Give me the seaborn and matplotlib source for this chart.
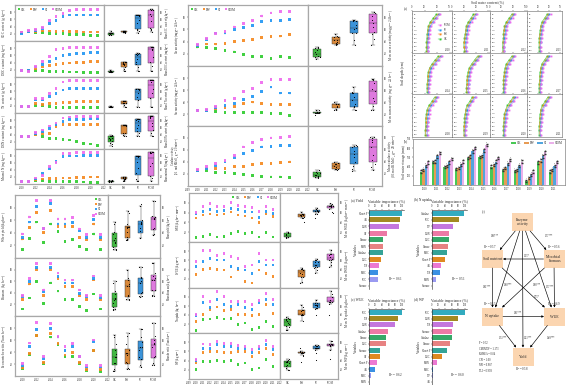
import numpy as np
import pandas as pd
import matplotlib
matplotlib.use("Agg")
import matplotlib.pyplot as plt
import seaborn as sns
from matplotlib.patches import FancyBboxPatch

W, H = 567, 385
TRT = ["CK", "FW", "SI", "SIOM"]
PAL = {"CK": "#2ecc2e", "FW": "#f5891f", "SI": "#2196f3", "SIOM": "#ee6aee"}
BAR_PAL = {"CK": "#33dd44", "FW": "#ff9a3c", "SI": "#3aaaf5", "SIOM": "#f4a6f4"}
nan = np.nan

years12 = list(range(2010, 2022))
years11 = list(range(2010, 2021))

# --- soil nutrients (top left), relative units ---
soc = {"CK": [23, 27, 23, 23, 21, 21, 21, 19, 18, 18, 16, 16],
       "FW": [23, 25, 25, 28, 28, 27, 28, 27, 26, 25, 25, 25],
       "SI": [21, 27, 30, 34, 49, 58, 69, 72, 72, 72, 72, 72],
       "SIOM": [25, 30, 32, 37, 56, 69, 76, 85, 87, 87, 88, 88]}
doc = {"CK": [17, 17, 19, 19, 16, 15, 15, 14, 14, 13, 13, 13],
       "FW": [17, 17, 23, 28, 32, 35, 37, 39, 41, 41, 42, 42],
       "SI": [17, 17, 28, 35, 42, 51, 60, 63, 65, 65, 67, 68],
       "SIOM": [17, 16, 30, 42, 56, 76, 79, 83, 83, 83, 83, 83]}
tn = {"CK": [18, 18, 20, 20, 18, 16, 16, 16, 16, 16, 16, 16],
      "FW": [18, 18, 27, 23, 27, 27, 29, 29, 32, 32, 32, 32],
      "SI": [18, 18, 36, 36, 45, 55, 64, 68, 68, 68, 68, 68],
      "SIOM": [18, 18, 41, 41, 55, 68, 86, 91, 91, 91, 91, 91]}
don = {"CK": [35, 35, 39, 35, 30, 30, 27, 25, 21, 16, 14, 9],
       "FW": [35, 35, 39, 44, 44, 63, 67, 67, 67, 67, 67, 67],
       "SI": [35, 35, 44, 49, 58, 67, 77, 81, 83, 83, 84, 84],
       "SIOM": [35, 35, 45, 53, 64, 72, 86, 89, 91, 91, 91, 91]}
mn = {"CK": [8, 8, 10, 10, 8, 8, 8, 8, 7, 6, 5, 5],
      "FW": [8, 8, 12, 14, 15, 15, 17, 17, 19, 19, 20, 20],
      "SI": [8, 8, 14, 31, 45, 64, 78, 80, 80, 81, 81, 81],
      "SIOM": [8, 8, 17, 24, 50, 61, 88, 88, 90, 90, 90, 90]}

# --- enzyme activities (top middle) ---
urease = {"CK": [31, 30, 29, 26, 23, 19, 16, 15, 12, 15, 14],
          "FW": [34, 36, 36, 37, 40, 42, 43, 47, 48, 49, 52],
          "SI": [34, 43, 54, 54, 60, 63, 67, 73, 75, 74, 76],
          "SIOM": [35, 45, 53, 56, 64, 70, 75, 82, 87, 89, 89]}
sucrase = {"CK": [26, 26, 24, 23, 23, 22, 22, 22, 21, 21, 18],
           "FW": [26, 26, 29, 31, 33, 37, 40, 37, 36, 36, 36],
           "SI": [26, 26, 31, 34, 37, 44, 49, 57, 65, 55, 55],
           "SIOM": [26, 27, 33, 42, 46, 58, 62, 72, 78, 77, 78]}
catalase = {"CK": [26, 26, 23, 22, 21, 19, 18, 16, 15, 15, 14],
            "FW": [26, 29, 29, 29, 32, 33, 36, 37, 38, 39, 40],
            "SI": [25, 29, 34, 40, 48, 54, 59, 65, 66, 67, 68],
            "SIOM": [27, 32, 37, 43, 51, 65, 73, 77, 80, 81, 82]}

# --- yield, biomass, benefits (bottom left) ---
grain = {"CK": [14, 31, 57, 24, 54, 42, 26, 29, 18, 13, 38, 14],
         "FW": [30, 48, 72, 41, 75, 50, 50, 50, 33, 29, 54, 29],
         "SI": [32, 57, 82, 47, 86, 54, 54, 56, 43, 32, 61, 32],
         "SIOM": [38, 65, 91, 47, 91, 62, 62, 64, 46, 37, 67, 37]}
biomass = {"CK": [12, 31, 60, 22, 57, 43, 28, 29, 16, 10, 38, 12],
           "FW": [29, 55, 80, 36, 80, 65, 51, 51, 35, 29, 62, 28],
           "SI": [34, 60, 84, 42, 84, 68, 57, 57, 39, 34, 65, 32],
           "SIOM": [36, 65, 91, 45, 91, 74, 62, 62, 45, 35, 69, 35]}
benefit = {"CK": [12, 36, 68, 21, 65, 53, 32, 32, 21, 9, 43, 8],
           "FW": [14, 38, 67, 22, 71, 54, 35, 39, 23, 11, 43, 11],
           "SI": [18, 49, 78, 29, 79, 65, 43, 49, 32, 15, 57, 15],
           "SIOM": [21, 55, 89, 32, 88, 66, 49, 54, 33, 18, 60, 18]}

# --- water use (bottom middle) ---
wue = {"CK": [9, 11, 15, 10, 11, 17, 21, 18, 19, 10, 20, 10],
       "FW": [49, 55, 57, 55, 57, 61, 55, 53, 49, 40, 57, 52],
       "SI": [57, 63, 67, 63, 65, 69, 67, 63, 61, 50, 63, 58],
       "SIOM": [60, 73, 78, 73, 73, 80, 75, 73, 71, 62, 73, 67]}
iwue = {"CK": [nan] * 12,
        "FW": [30, 41, 43, 41, 39, 24, 39, 14, 11, 39, 32, 25],
        "SI": [46, 57, 64, 61, 61, 46, 43, 39, 32, 57, 50, 50],
        "SIOM": [57, 82, 82, 71, 75, 68, 64, 46, 50, 75, 61, 61]}
nup = {"CK": [6, 30, 31, 35, 31, 33, 19, 22, 7, 13, 26, 15],
       "FW": [26, 41, 52, 58, 50, 52, 41, 41, 39, 41, 63, 43],
       "SI": [39, 67, 56, 74, 63, 59, 63, 56, 53, 67, 74, 63],
       "SIOM": [41, 81, 70, 93, 81, 70, 70, 70, 64, 73, 87, 74]}
wp = {"CK": [20, 38, 38, 41, 38, 40, 31, 35, 20, 24, 43, 28],
      "FW": [36, 57, 59, 60, 57, 58, 59, 59, 49, 57, 67, 53],
      "SI": [41, 67, 67, 75, 71, 71, 67, 67, 57, 67, 75, 64],
      "SIOM": [43, 76, 75, 82, 77, 77, 73, 71, 64, 71, 83, 71]}
SE = 2.5

# --- soil water content profiles (%), 2010-2021 ---
depths = [20, 40, 60, 80, 100, 120, 140, 160, 180, 200]
swc_ck = [[19.5, 17.0, 14.5, 13.0, 12.5, 12.0, 12.0, 11.5, 11.5, 11.5],
          [18.0, 16.0, 13.5, 12.0, 11.5, 11.0, 10.5, 10.0, 10.0, 10.5],
          [19.0, 16.5, 14.0, 12.5, 12.0, 11.5, 11.5, 11.0, 11.0, 11.0],
          [18.5, 16.0, 13.5, 12.5, 12.0, 11.5, 11.0, 11.0, 11.0, 11.0],
          [21.0, 18.5, 16.0, 14.0, 13.0, 12.5, 12.5, 12.0, 12.0, 12.0],
          [21.5, 19.0, 16.5, 14.5, 13.5, 13.0, 12.5, 12.5, 12.0, 12.0],
          [19.0, 16.5, 14.0, 13.0, 12.5, 12.0, 11.5, 11.5, 11.5, 11.5],
          [18.5, 16.0, 13.5, 12.5, 12.0, 11.5, 11.5, 11.0, 11.0, 11.0],
          [18.0, 16.0, 13.5, 12.0, 11.5, 11.0, 11.0, 11.0, 10.5, 10.5],
          [17.0, 15.0, 12.5, 11.5, 11.0, 10.5, 10.5, 10.0, 10.0, 10.0],
          [20.0, 17.5, 15.0, 13.5, 12.5, 12.0, 12.0, 11.5, 11.5, 11.5],
          [19.0, 16.5, 14.0, 12.5, 12.0, 11.5, 11.5, 11.0, 11.0, 11.0]]
swc_fw = [[20.5, 18.0, 15.5, 13.5, 13.0, 12.5, 12.5, 12.0, 12.0, 12.0],
          [19.0, 17.0, 14.5, 12.5, 12.0, 11.5, 11.0, 10.5, 10.5, 11.0],
          [20.0, 17.5, 15.0, 13.0, 12.5, 12.0, 12.0, 11.5, 11.5, 11.5],
          [19.5, 17.0, 14.5, 13.0, 12.5, 12.0, 11.5, 11.5, 11.5, 11.5],
          [22.0, 19.5, 17.0, 14.5, 13.5, 13.0, 13.0, 12.5, 12.5, 12.5],
          [22.5, 20.0, 17.5, 15.0, 14.0, 13.5, 13.0, 13.0, 12.5, 12.5],
          [20.0, 17.5, 15.0, 13.5, 13.0, 12.5, 12.0, 12.0, 12.0, 12.0],
          [19.5, 17.0, 14.5, 13.0, 12.5, 12.0, 12.0, 11.5, 11.5, 11.5],
          [19.0, 17.0, 14.5, 12.5, 12.0, 11.5, 11.5, 11.5, 11.0, 11.0],
          [18.0, 16.0, 13.5, 12.0, 11.5, 11.0, 11.0, 10.5, 10.5, 10.5],
          [21.0, 18.5, 16.0, 14.0, 13.0, 12.5, 12.5, 12.0, 12.0, 12.0],
          [20.0, 17.5, 15.0, 13.0, 12.5, 12.0, 12.0, 11.5, 11.5, 11.5]]
swc_si = [[21.5, 19.0, 16.5, 14.5, 13.5, 13.0, 13.0, 12.5, 12.5, 12.5],
          [20.0, 18.0, 15.5, 13.5, 13.0, 12.5, 12.0, 11.5, 11.5, 12.0],
          [21.0, 18.5, 16.0, 14.0, 13.5, 13.0, 12.5, 12.5, 12.0, 12.0],
          [20.5, 18.0, 15.5, 14.0, 13.5, 13.0, 12.5, 12.5, 12.0, 12.0],
          [23.0, 20.5, 18.0, 15.5, 14.5, 14.0, 13.5, 13.5, 13.0, 13.0],
          [23.5, 21.0, 18.5, 16.0, 15.0, 14.5, 14.0, 14.0, 13.5, 13.5],
          [21.0, 18.5, 16.0, 14.5, 14.0, 13.5, 13.0, 13.0, 12.5, 12.5],
          [20.5, 18.0, 15.5, 14.0, 13.5, 13.0, 12.5, 12.5, 12.0, 12.0],
          [20.0, 18.0, 15.5, 13.5, 13.0, 12.5, 12.5, 12.0, 12.0, 12.0],
          [19.0, 17.0, 14.5, 13.0, 12.5, 12.0, 11.5, 11.5, 11.0, 11.0],
          [22.0, 19.5, 17.0, 15.0, 14.0, 13.5, 13.0, 13.0, 12.5, 12.5],
          [21.0, 18.5, 16.0, 14.0, 13.5, 13.0, 12.5, 12.5, 12.0, 12.0]]
swc_siom = [[22.5, 20.0, 17.5, 15.5, 14.5, 14.0, 13.5, 13.5, 13.0, 13.0],
            [21.0, 19.0, 16.5, 14.5, 14.0, 13.5, 13.0, 12.5, 12.0, 12.5],
            [22.0, 19.5, 17.0, 15.0, 14.5, 14.0, 13.5, 13.0, 12.5, 12.5],
            [21.5, 19.0, 16.5, 15.0, 14.5, 14.0, 13.5, 13.0, 12.5, 12.5],
            [24.0, 21.5, 19.0, 16.5, 15.5, 15.0, 14.5, 14.0, 13.5, 13.5],
            [24.5, 22.0, 19.5, 17.0, 16.0, 15.5, 15.0, 14.5, 14.0, 14.0],
            [22.0, 19.5, 17.0, 15.5, 15.0, 14.5, 14.0, 13.5, 13.0, 13.0],
            [21.5, 19.0, 16.5, 15.0, 14.5, 14.0, 13.5, 13.0, 12.5, 12.5],
            [21.0, 19.0, 16.5, 14.5, 14.0, 13.5, 13.0, 12.5, 12.5, 12.5],
            [20.0, 18.0, 15.5, 14.0, 13.5, 13.0, 12.5, 12.0, 11.5, 11.5],
            [23.0, 20.5, 18.0, 16.0, 15.0, 14.5, 14.0, 13.5, 13.0, 13.0],
            [22.0, 19.5, 17.0, 15.0, 14.5, 14.0, 13.5, 13.0, 12.5, 12.5]]

# --- soil water storage (mm) ---
storage = {"CK": [346, 448, 393, 372, 492, 503, 401, 364, 353, 247, 445, 346],
           "FW": [364, 455, 408, 383, 510, 518, 419, 383, 364, 273, 466, 364],
           "SI": [408, 510, 445, 419, 565, 576, 455, 430, 408, 310, 510, 408],
           "SIOM": [445, 547, 481, 455, 601, 638, 492, 474, 455, 346, 554, 448]}
storage_se = 12
storage_letters = {"CK": "c", "FW": "c", "SI": "b", "SIOM": "a"}

# --- random forest variable importance (%) ---
vi_yield_vars = ["Shoot P", "AN", "DON", "OP", "Urease", "MBN", "Catalase", "DOC", "TN", "MBC", "SOC", "Sucrase"]
vi_yield = [100, 93, 90, 55, 43, 41, 41, 37, 30, 26, 26, 0]
vi_nup_vars = ["Catalase", "SOC", "TP", "DON", "DOC", "Urease", "MBC", "Shoot P", "AN", "TN", "MBN", "Sucrase"]
vi_nup = [97, 82, 65, 52, 51, 48, 44, 40, 28, 23, 13, 0]
vi_wue_vars = ["SOC", "TN", "DON", "Catalase", "Urease", "DOC", "Sucrase", "OP", "Shoot P", "AN", "MBC", "MBN"]
vi_wue = [100, 87, 78, 59, 52, 50, 33, 33, 25, 17, 7, 0]
vi_wp_vars = ["SOC", "DON", "TN", "Sucrase", "Catalase", "Urease", "Shoot P", "DOC", "MBN", "MBC", "TP", "AN"]
vi_wp = [100, 79, 65, 62, 62, 54, 44, 31, 14, 4, 2, 0]
VI_COLORS = ["#1bbcd6", "#b8960c", "#cc66ee", "#ff66a0", "#22bb66", "#f87171",
             "#22b5a5", "#ff8c00", "#ff66dd", "#1e90ff", "#8c8cff", "#bbbbbb"]

# --- SEM ---
sem_nodes = {"enz": "Enzyme\nactivity", "soil": "Soil nutrient", "mic": "Microbial\nbiomass",
             "nup": "N uptake", "wue": "WUE", "yld": "Yield"}
sem_paths = [("enz", "soil", "0.66***"), ("enz", "mic", "0.57***"), ("mic", "soil", "0.15*"),
             ("soil", "nup", "0.81***"), ("enz", "nup", "0.80***"), ("enz", "wue", "0.68***"),
             ("mic", "wue", "0.57***"), ("soil", "wue", "0.75*"), ("mic", "nup", ""),
             ("nup", "wue", "0.61***"), ("nup", "yld", "0.53***"), ("enz", "yld", "0.23***"),
             ("wue", "yld", "0.48***")]
sem_r2 = {"soil": "0.57", "mic": "0.56", "nup": "0.55", "wue": "0.69", "yld": "0.58"}
sem_fit = ["P = 0.32", "CMIN/DF = 1.173", "RMSEA = 0.04", "CFI = 1.00", "NFI = 0.987", "TLI = 0.998"]

sns.set_theme(style="ticks")
plt.rcParams["font.family"] = ["Liberation Serif", "DejaVu Serif"]
plt.rcParams.update({
    "font.size": 2.3, "axes.linewidth": 0.4, "axes.labelsize": 2.3, "axes.labelpad": 0.5,
    "xtick.labelsize": 2.0, "ytick.labelsize": 2.0,
    "xtick.major.size": 1.0, "ytick.major.size": 1.0,
    "xtick.major.width": 0.3, "ytick.major.width": 0.3,
    "xtick.major.pad": 0.5, "ytick.major.pad": 0.5,
    "legend.fontsize": 2.3,
})
np.random.seed(3)

fig = plt.figure(figsize=(W / 100, H / 100), dpi=100)


def px_axes(x0, y0, x1, y1, **kw):
    return fig.add_axes([x0 / W, 1 - y1 / H, (x1 - x0) / W, (y1 - y0) / H], **kw)


def long_df(data, years):
    rows = []
    for t in TRT:
        for yr, v in zip(years, data[t]):
            rows.append((yr, t, v))
    return pd.DataFrame(rows, columns=["year", "trt", "value"]).dropna()


def frame(ax, color="#a8a8a8", lw=0.9):
    for s in ax.spines.values():
        s.set_color(color)
        s.set_linewidth(lw)


def ts_block(rows, years, x0, xm, x1, ys, xticks, legend_kw, lsize=2.3, rsize=2.3):
    n = len(rows)
    for i, (data, ylab, rlab) in enumerate(rows):
        ax = px_axes(x0, ys[i], xm, ys[i + 1])
        axb = px_axes(xm, ys[i], x1, ys[i + 1], sharey=ax)
        df = long_df(data, years)
        for t in TRT:
            d = df[df.trt == t]
            ax.errorbar(d.year, d.value, yerr=SE, fmt="none", ecolor=PAL[t],
                        elinewidth=0.3, alpha=0.45, zorder=2)
        sns.scatterplot(data=df, x="year", y="value", hue="trt", hue_order=TRT, palette=PAL,
                        marker="s", s=4, linewidth=0, alpha=0.9, ax=ax, legend=(i == 0), zorder=3)
        sns.boxplot(data=df, x="trt", y="value", order=TRT, hue="trt", hue_order=TRT,
                    palette=PAL, width=0.45, linewidth=0.3, linecolor="#333333",
                    fliersize=0, ax=axb, legend=False)
        sns.stripplot(data=df, x="trt", y="value", order=TRT, color="black", size=0.8,
                      jitter=0.13, ax=axb)
        ax.set_xlim(2009, 2022)
        ax.set_ylim(0, 100)
        ax.set_yticks([20, 40, 60, 80])
        ax.set_xticks(xticks)
        ax.set_xlabel("")
        axb.set_xlabel("")
        ax.set_ylabel(ylab, linespacing=0.9, fontsize=lsize)
        axb.set_ylabel(rlab, linespacing=0.9, fontsize=rsize)
        axb.yaxis.set_label_position("right")
        axb.tick_params(axis="y", left=False, labelleft=False, right=True, labelright=True)
        axb.set_xlim(-0.5, 3.5)
        if i < n - 1:
            ax.tick_params(axis="x", labelbottom=False)
            axb.tick_params(axis="x", labelbottom=False)
        if i == 0:
            ax.legend(**legend_kw)
        frame(ax)
        frame(axb)


row_leg = dict(loc="upper left", ncol=4, frameon=False, markerscale=1.0, handletextpad=0.1,
               columnspacing=1.2, borderpad=0.3, handlelength=1.0)
col_leg = dict(loc="upper right", ncol=1, frameon=False, markerscale=1.0, handletextpad=0.1,
               borderpad=0.3, labelspacing=0.3, handlelength=1.0)

ts_block([(soc, "SOC content (g kg$^{-1}$)", "Mean SOC content (g kg$^{-1}$)"),
          (doc, "DOC content (mg kg$^{-1}$)", "Mean DOC content (mg kg$^{-1}$)"),
          (tn, "TN content (g kg$^{-1}$)", "Mean TN content (g kg$^{-1}$)"),
          (don, "DON content (mg kg$^{-1}$)", "Mean DON content (mg kg$^{-1}$)"),
          (mn, "Mineral N (mg kg$^{-1}$)", "Mean mineral N (mg kg$^{-1}$)")],
         years12, 15, 104, 158, [5, 41, 77, 113, 149, 184], list(range(2010, 2023, 2)), row_leg,
         rsize=1.9)

ts_block([(urease, "Urease activity (mg g$^{-1}$ 24 h$^{-1}$)", "Mean urease activity (mg g$^{-1}$ 24 h$^{-1}$)"),
          (sucrase, "Sucrase activity (mg g$^{-1}$ 24 h$^{-1}$)", "Mean sucrase activity (mg g$^{-1}$ 24 h$^{-1}$)"),
          (catalase, "Catalase activity\n(0.1 mol KMnO$_4$ g$^{-1}$ 20 min$^{-1}$)",
           "Mean catalase activity\n(0.1 mol KMnO$_4$ g$^{-1}$ 20 min$^{-1}$)")],
         years11, 188, 308, 382, [5, 66, 126, 186], list(range(2009, 2023)), row_leg,
         lsize=2.0)

ts_block([(grain, "Wheat yield (kg ha$^{-1}$)", "Mean yield (kg ha$^{-1}$)"),
          (biomass, "Biomass (kg ha$^{-1}$)", "Mean biomass (kg ha$^{-1}$)"),
          (benefit, "Economic benefits (Yuan ha$^{-1}$)", "Mean benefits (Yuan ha$^{-1}$)")],
         years12, 15, 108, 160, [195, 258, 316, 376], list(range(2010, 2023, 2)), col_leg,
         rsize=1.9)

ts_block([(wue, "WUE (kg ha$^{-1}$ mm$^{-1}$)", "Mean WUE (kg ha$^{-1}$ mm$^{-1}$)"),
          (iwue, "IWUE (kg m$^{-3}$)", "Mean IWUE (kg m$^{-3}$)"),
          (nup, "N uptake (kg ha$^{-1}$)", "Mean N uptake (kg ha$^{-1}$)"),
          (wp, "WP (kg m$^{-3}$)", "Mean WP (kg m$^{-3}$)")],
         years12, 189, 280, 338, [193, 242, 288, 333, 379], list(range(2009, 2023)),
         dict(row_leg, loc="upper right"), lsize=2.0)

# --- (a) soil water content profiles ---
cols = [412, 452, 490, 527, 562]
rws = [11, 53, 94, 137]
all_swc = {"CK": swc_ck, "FW": swc_fw, "SI": swc_si, "SIOM": swc_siom}
for k, yr in enumerate(years12):
    r, c = divmod(k, 4)
    ax = px_axes(cols[c], rws[r], cols[c + 1], rws[r + 1])
    recs = []
    for t in TRT:
        for d, v in zip(depths, all_swc[t][k]):
            recs.append((t, d, v))
    pdf = pd.DataFrame(recs, columns=["trt", "depth", "swc"])
    sns.lineplot(data=pdf, x="swc", y="depth", hue="trt", hue_order=TRT, palette=PAL,
                 orient="y", marker="s", markersize=1.3, markeredgewidth=0, linewidth=0.35,
                 ax=ax, legend=(k == 0))
    ax.set_xlim(0, 32)
    ax.set_ylim(212, 5)
    ax.set_yticks(depths)
    ax.tick_params(axis="y", direction="in", pad=-1.2, labelsize=1.6, length=0.8)
    for lbl in ax.get_yticklabels():
        lbl.set_horizontalalignment("left")
    ax.xaxis.tick_top()
    ax.set_xticks([0, 10, 20, 30])
    ax.tick_params(axis="x", labeltop=(r == 0), labelsize=1.8, pad=0.3)
    ax.set_xlabel("")
    ax.set_ylabel("")
    ax.text(0.97, 0.03, str(yr), transform=ax.transAxes, ha="right", va="bottom", fontsize=2.0)
    frame(ax, "#666666", 0.4)
    if k == 0:
        hs, ls = ax.get_legend_handles_labels()
        ax.legend(hs[::-1], ls[::-1], loc="center right", frameon=False, fontsize=1.9,
                  handlelength=1.4, labelspacing=0.2, borderpad=0.2)
fig.text(487 / W, 1 - 0.5 / H, "Soil water content (%)", ha="center", va="top", fontsize=2.6)
fig.text(403 / W, 1 - 73 / H, "Soil depth (cm)", ha="center", va="center", rotation=90, fontsize=2.8)
fig.text(404 / W, 1 - 9 / H, "(a)", ha="left", va="center", fontsize=2.6)

# --- (b) soil water storage ---
axs = px_axes(413, 139, 565, 185)
sdf = long_df(storage, years12)
sns.barplot(data=sdf, x="year", y="value", hue="trt", hue_order=TRT, palette=BAR_PAL,
            width=0.8, errorbar=None, linewidth=0, ax=axs)
for t, cont in zip(TRT, axs.containers):
    for bar in cont:
        cx = bar.get_x() + bar.get_width() / 2
        h = bar.get_height()
        axs.errorbar(cx, h, yerr=storage_se, fmt="none", ecolor="#333333", elinewidth=0.25, capsize=0.4)
        axs.text(cx, h + storage_se + 4, storage_letters[t], ha="center", va="bottom", fontsize=1.4)
axs.set_ylim(200, 700)
axs.set_yticks([300, 400, 500, 600, 700])
axs.set_xlabel("")
axs.set_ylabel("Soil water storage (mm)", fontsize=2.5)
axs.tick_params(axis="x", labelsize=1.9)
axs.legend(loc="upper right", ncol=4, frameon=False, fontsize=2.3, handlelength=1.6,
           handleheight=0.7, columnspacing=0.8, handletextpad=0.3, borderpad=0.2)
frame(axs, "#666666", 0.4)
fig.text(404 / W, 1 - 141 / H, "(b)", ha="left", va="center", fontsize=2.6)


# --- variable importance ---
def vi_panel(x0, y0, x1, y1, names, vals, tag, r2, tagx):
    ax = px_axes(x0, y0, x1, y1)
    sns.barplot(x=vals, y=names, hue=names, palette=VI_COLORS, legend=False, orient="h",
                width=0.75, linewidth=0, ax=ax)
    ax.set_xlim(0, 106)
    ax.xaxis.tick_top()
    ax.xaxis.set_label_position("top")
    ax.set_xticks([0, 20, 40, 60, 80, 100])
    ax.set_xlabel("Variable importance (%)", fontsize=2.7, labelpad=0.6)
    ax.set_ylabel("Variables", fontsize=2.5)
    ax.tick_params(axis="y", labelsize=1.9, length=0.8)
    ax.tick_params(axis="x", labelsize=1.9)
    ax.spines["right"].set_visible(False)
    ax.spines["bottom"].set_visible(False)
    ax.text(0.95, 0.08, "R$^2$ = " + r2, transform=ax.transAxes, ha="right", va="bottom", fontsize=2.3)
    fig.text(tagx / W, 1 - (y0 - 10) / H, tag, ha="left", va="center", fontsize=2.5)


vi_panel(369, 210, 404, 289, vi_yield_vars, vi_yield, "(a) Yield", "0.61", 351)
vi_panel(432, 210, 467, 289, vi_nup_vars, vi_nup, "(b) N uptake", "0.51", 414)
vi_panel(369, 309, 404, 385, vi_wue_vars, vi_wue, "(c) WUE", "0.62", 351)
vi_panel(432, 309, 467, 385, vi_wp_vars, vi_wp, "(d) WP", "0.60", 414)

# --- (c) structural equation model ---
sem = px_axes(476, 195, 567, 385)
sem.set_xlim(476, 567)
sem.set_ylim(385, 195)
sem.axis("off")
node_xy = {"enz": (522.5, 222), "soil": (492.5, 259), "mic": (554, 259),
           "nup": (492.5, 316.5), "wue": (554.5, 316.5), "yld": (523, 356.5)}
boxes = {}
for key, label in sem_nodes.items():
    cx, cy = node_xy[key]
    p = FancyBboxPatch((cx - 10.5, cy - 9), 21, 18, boxstyle="square,pad=0",
                       fc="#fbd5b0", ec="none", zorder=1)
    sem.add_patch(p)
    boxes[key] = p
    sem.text(cx, cy, label, ha="center", va="center", fontsize=2.8, zorder=3, linespacing=1.1)
lab_xy = {("enz", "soil"): (495, 236), ("enz", "mic"): (549, 236), ("mic", "soil"): (527, 256),
          ("soil", "nup"): (487, 287), ("enz", "nup"): (508, 285), ("enz", "wue"): (537, 285),
          ("mic", "wue"): (550, 287), ("soil", "wue"): (537, 297), ("nup", "wue"): (518, 313),
          ("nup", "yld"): (503, 338), ("enz", "yld"): (527.5, 338), ("wue", "yld"): (551, 338)}
for a, b, coef in sem_paths:
    sem.annotate("", xy=node_xy[b], xytext=node_xy[a],
                 arrowprops=dict(arrowstyle="-|>", lw=0.45, color="black", patchA=boxes[a],
                                 patchB=boxes[b], shrinkA=0, shrinkB=0, mutation_scale=3),
                 zorder=2)
    if coef:
        lx, ly = lab_xy[(a, b)]
        sem.text(lx, ly, coef, ha="center", va="center", fontsize=1.8, zorder=3)
r2_xy = {"soil": (490, 247), "mic": (554, 247), "nup": (490, 304), "wue": (554, 304), "yld": (522, 369.5)}
for key, val in sem_r2.items():
    sem.text(r2_xy[key][0], r2_xy[key][1], "R$^2$ = " + val, ha="center", va="center", fontsize=2.2)
for j, line in enumerate(sem_fit):
    sem.text(479, 343 + j * 5.6, line, ha="left", va="center", fontsize=1.9)
sem.text(482, 212, "(c)", ha="left", va="center", fontsize=2.5)

fig.savefig("out.png", dpi=100)
